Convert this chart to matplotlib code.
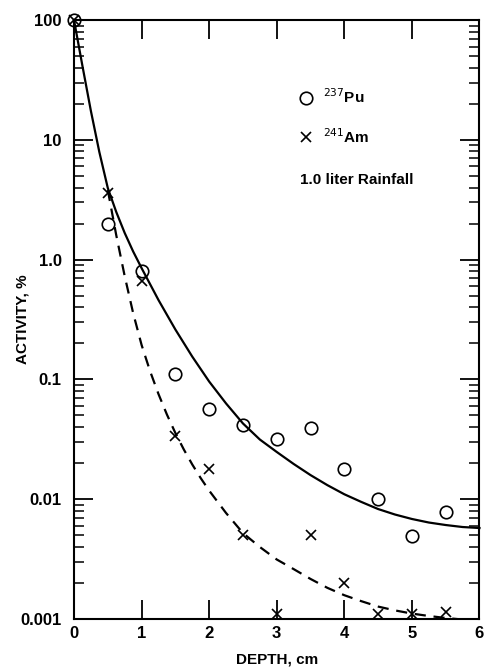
import matplotlib
matplotlib.use("Agg")
import matplotlib.pyplot as plt
from matplotlib.ticker import FixedLocator, LogLocator, NullFormatter
import numpy as np

plt.rcParams['font.family'] = ['Liberation Sans', 'DejaVu Sans']

# measured points
depth = [0, 0.5, 1.0, 1.5, 2.0, 2.5, 3.0, 3.5, 4.0, 4.5, 5.0, 5.5]
pu237 = [100, 2.0, 0.81, 0.11, 0.057, 0.042, 0.032, 0.039, 0.018, 0.010, 0.0049, 0.0078]
am241 = [100, 3.6, 0.66, 0.034, 0.018, 0.005, 0.0011, 0.005, 0.002, 0.0011, 0.0011, 0.00115]

# fitted curves
pu_fit_x = [0, 0.125, 0.25, 0.375, 0.5, 0.625, 0.75, 0.875, 1.0, 1.25, 1.5,
            1.75, 2.0, 2.25, 2.5, 2.75, 3.0, 3.25, 3.5, 3.75, 4.0, 4.25, 4.5,
            4.75, 5.0, 5.25, 5.5, 5.75, 6.0]
pu_fit_y = [100, 41.3, 17.4, 7.9, 3.96, 2.50, 1.67, 1.17, 0.85, 0.46, 0.261,
            0.155, 0.096, 0.063, 0.0429, 0.0315, 0.0248, 0.0197, 0.0159, 0.0131,
            0.0110, 0.0095, 0.00828, 0.00745, 0.00684, 0.00639, 0.00609,
            0.00586, 0.00575]
am_fit_x = [0.5, 0.625, 0.75, 0.875, 1.0, 1.125, 1.25, 1.375, 1.5, 1.625, 1.75,
            1.875, 2.0, 2.25, 2.5, 2.75, 3.0, 3.25, 3.5, 3.75, 4.0, 4.25, 4.5,
            4.75, 5.0, 5.25, 5.5, 5.75]
am_fit_y = [3.81, 1.60, 0.729, 0.358, 0.194, 0.1175, 0.0755, 0.0509, 0.0357,
            0.0260, 0.0195, 0.0150, 0.0118, 0.00767, 0.00522, 0.00399, 0.00314,
            0.00261, 0.00216, 0.00182, 0.00158, 0.00141, 0.00127, 0.00118,
            0.00111, 0.00106, 0.00102, 0.00099]

ytick_vals = [0.001, 0.01, 0.1, 1, 10, 100]
ytick_labels = ["0.001", "0.01", "0.1", "1.0", "10", "100"]
xtick_vals = [0, 1, 2, 3, 4, 5, 6]

fig = plt.figure(figsize=(4.85, 6.7), dpi=100)
ax = fig.add_axes([0.1526, 0.0761, 0.836, 0.894])

ax.plot(pu_fit_x, pu_fit_y, color='black', lw=1.6, clip_on=False)
ax.plot(am_fit_x, am_fit_y, color='black', lw=1.6, ls=(0, (5, 3.5)))
ax.plot(depth, pu237, 'o', ms=9, mfc='none', mec='black', mew=1.2,
        clip_on=False, label=r'$^{237}$Pu')
ax.plot(depth, am241, 'x', ms=7, mec='black', mew=1.2,
        clip_on=False, label=r'$^{241}$Am')

ax.set_yscale('log')
ax.set_xlim(0, 6)
ax.set_ylim(0.001, 100)

ax.yaxis.set_major_locator(FixedLocator(ytick_vals))
ax.set_yticklabels(ytick_labels)
ax.yaxis.set_minor_locator(LogLocator(base=10, subs=np.arange(2, 10)))
ax.yaxis.set_minor_formatter(NullFormatter())
ax.set_xticks(xtick_vals)
ax.set_xticklabels([str(v) for v in xtick_vals])

ax.tick_params(which='major', direction='in', length=14, width=1.3,
               top=True, right=True, labelsize=12)
ax.tick_params(axis='y', which='major', pad=9)
ax.tick_params(axis='x', which='major', pad=5)
ax.tick_params(which='minor', direction='in', length=7, width=1.1,
               top=False, right=True)
for s in ax.spines.values():
    s.set_linewidth(1.5)

for lab in ax.get_xticklabels() + ax.get_yticklabels():
    lab.set_fontweight('bold')

ax.set_xlabel("DEPTH, cm", fontsize=11, fontweight='bold', labelpad=8)
ax.set_ylabel("ACTIVITY, %", fontsize=11, fontweight='bold')
ax.yaxis.set_label_coords(-0.11, 0.5)

leg = ax.legend(loc='upper left', bbox_to_anchor=(0.52, 0.91), frameon=False,
                handlelength=1.0, handletextpad=0.6, labelspacing=1.35,
                prop={'size': 11, 'weight': 'bold'})
ax.text(0.558, 0.733, "1.0 liter Rainfall", transform=ax.transAxes,
        fontsize=11, fontweight='bold', va='center', ha='left')

fig.savefig("out.png", dpi=100)
